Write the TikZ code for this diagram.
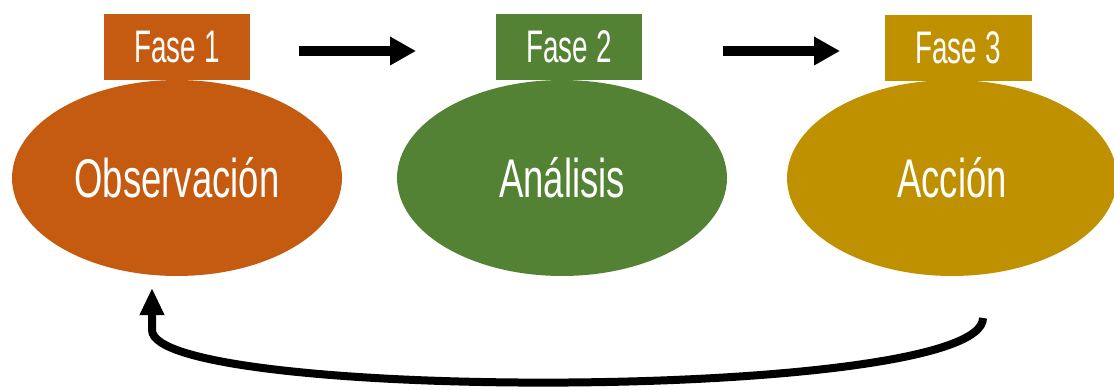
\documentclass[tikz,border=0pt]{standalone}
\usepackage{fontspec}
\setmainfont[FakeStretch=0.61]{Liberation Sans}
\newfontfamily\widecond[FakeStretch=0.67]{Liberation Sans}
\usetikzlibrary{shapes.geometric,arrows.meta}
\definecolor{cOrange}{HTML}{C55A11}
\definecolor{cGreen}{HTML}{548235}
\definecolor{cGold}{HTML}{BF9000}
\tikzset{
  phase/.style={ellipse, minimum width=6.6cm, minimum height=3.92cm, inner sep=0pt,
    text=white, font=\widecond\fontsize{31}{31}\selectfont, text height=0.76cm, text depth=0pt},
  tag/.style={rectangle, minimum width=2.94cm, minimum height=1.34cm, inner sep=0pt,
    text=white, font=\fontsize{26}{26}\selectfont, text height=0.64cm, text depth=0pt},
  flow/.style={line width=0.2cm, -{Triangle[length=0.52cm, width=0.54cm]}},
  loop/.style={line width=0.16cm, -{Triangle[length=0.54cm, width=0.46cm]}}
}
\begin{document}
\begin{tikzpicture}[x=0.02cm, y=-0.02cm]
\useasboundingbox (0,0) rectangle (1114,389);
\node[tag, fill=cOrange] (t1) at (177,47) {Fase 1};
\node[tag, fill=cGreen] (t2) at (569,47) {Fase 2};
\node[tag, fill=cGold] (t3) at (958,48) {Fase 3};
\node[phase, fill=cOrange] (e1) at (177,178) {Observación};
\node[phase, fill=cGreen] (e2) at (562,178) {Análisis};
\node[phase, fill=cGold] (e3) at (952,178) {Acción};
\coordinate (a1s) at (299,51);
\coordinate (a1e) at (416,51);
\coordinate (a2s) at (723,51);
\coordinate (a2e) at (840,51);
\draw[flow] (a1s) -- (a1e);
\draw[flow] (a2s) -- (a2e);
\coordinate (ls) at (983,318);
\coordinate (le) at (152,288);
\draw[loop] (ls) .. controls (983,402) and (152,402) .. (152,330) -- (le);
\end{tikzpicture}
\end{document}
